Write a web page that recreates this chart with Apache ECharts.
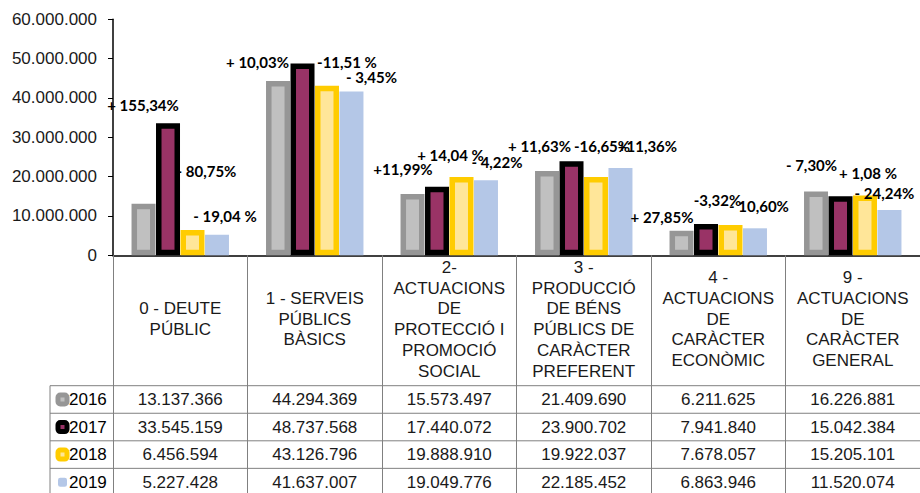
<!DOCTYPE html>
<html><head><meta charset="utf-8">
<script src="https://cdn.jsdelivr.net/npm/echarts@6/dist/echarts.min.js"></script>
<style>html,body{margin:0;padding:0;background:#fff}#c{width:920px;height:493px}</style>
</head><body><div id="c"></div>
<script>
// ---- data ----
const categories = [
  "0 - DEUTE\nPÚBLIC",
  "1 - SERVEIS\nPÚBLICS\nBÀSICS",
  "2-\nACTUACIONS\nDE\nPROTECCIÓ I\nPROMOCIÓ\nSOCIAL",
  "3 -\nPRODUCCIÓ\nDE BÉNS\nPÚBLICS DE\nCARÀCTER\nPREFERENT",
  "4 -\nACTUACIONS\nDE\nCARÀCTER\nECONÒMIC",
  "9 -\nACTUACIONS\nDE\nCARÀCTER\nGENERAL"
];
const years = ["2016", "2017", "2018", "2019"];
const values2016 = [13137366, 44294369, 15573497, 21409690, 6211625, 16226881];
const values2017 = [33545159, 48737568, 17440072, 23900702, 7941840, 15042384];
const values2018 = [6456594, 43126796, 19888910, 19922037, 7678057, 15205101];
const values2019 = [5227428, 41637007, 19049776, 22185452, 6863946, 11520074];
const change2017 = ["+ 155,34%", "+ 10,03%", "+11,99%", "+ 11,63%", "+ 27,85%", "- 7,30%"];
const change2018 = ["- 80,75%", "-11,51 %", "+ 14,04 %", "-16,65%", "-3,32%", "+ 1,08 %"];
const change2019 = ["- 19,04 %", "- 3,45%", "- 4,22%", "+11,36%", "- 10,60%", "- 24,24%"];
const yMin = 0, yMax = 60000000, yInterval = 10000000;

// ---- layout / style (label offsets relative to bar top) ----
const off2017 = [[-25,-10],[-45,6],[-34,-10],[-32,-7],[-44,1],[-29,-23]];
const off2018 = [[14,-51],[20,-16],[-11,-14],[6,-23],[-13,-17],[3,-14]];
const off2019 = [[8,-11],[20,-7],[11,-10],[27,-14],[4,-14],[-5,-9]];

const fmt = v => String(v).replace(/\B(?=(\d{3})+(?!\d))/g, ".");
const TXT = "'Liberation Sans', Arial, sans-serif";
const LBL = { fontFamily: "Lato, 'Open Sans', sans-serif", fontWeight: "bold", fontSize: 15, lineHeight: 16, color: "#000" };

const styles = [
  { color: "#c0c0c0", borderColor: "#969696", borderWidth: 5.5 },
  { color: "#993366", borderColor: "#000000", borderWidth: 5.5 },
  { color: "#ffe699", borderColor: "#ffcc00", borderWidth: 5.5 },
  { color: "#b4c7e7", borderWidth: 0 }
];
const allValues = [values2016, values2017, values2018, values2019];
const allChanges = [null, change2017, change2018, change2019];
const allOffsets = [null, off2017, off2018, off2019];

const series = years.map((y, s) => ({
  name: y,
  type: "bar",
  barWidth: 24,
  barGap: "2%",
  itemStyle: styles[s],
  data: allValues[s].map((v, i) => {
    const item = { value: v };
    if (allChanges[s]) {
      item.label = {
        show: true, position: "top", distance: 0,
        offset: allOffsets[s][i],
        formatter: allChanges[s][i],
        ...LBL
      };
    }
    return item;
  }),
  emphasis: { disabled: true }
}));

const chart = echarts.init(document.getElementById("c"), null, { renderer: "svg" });
chart.setOption({
  animation: false,
  backgroundColor: "#fff",
  grid: { left: 113, top: 19.3, width: 811, height: 236 },
  legend: {
    orient: "vertical", left: 55.5, top: 390.5, height: 160, padding: 0,
    itemWidth: 9, itemHeight: 9, itemGap: 9.55,
    icon: "roundRect",
    textStyle: { fontFamily: TXT, fontSize: 17, color: "#000", lineHeight: 18, padding: [0,0,0,-3] },
    selectedMode: false,
    data: years.map((y, s) => ({ name: y, itemStyle: { color: styles[s].color, borderColor: styles[s].borderColor || styles[s].color, borderWidth: s === 3 ? 0 : 5 } }))
  },
  xAxis: {
    type: "category",
    data: categories,
    axisLine: { lineStyle: { color: "#000", width: 1.5 } },
    axisTick: { show: true, length: 240, lineStyle: { color: "#808080", width: 1 } },
    axisLabel: { interval: 0, margin: 64, verticalAlign: "middle", fontFamily: TXT, fontSize: 17, lineHeight: 20.7, color: "#1a1a1a", align: "center" }
  },
  yAxis: {
    type: "value", min: yMin, max: yMax, interval: yInterval,
    splitLine: { show: false },
    axisLine: { show: true, lineStyle: { color: "#000", width: 1.5 } },
    axisTick: { show: true, length: 5, lineStyle: { color: "#000" } },
    axisLabel: { margin: 16, formatter: v => fmt(v), fontFamily: TXT, fontSize: 17, color: "#1a1a1a" }
  },
  series
});

// ---- data table below the axis ----
const rowTop = 385.7, rowH = 27.55, tableLeft = 50, tableRight = 924;
const g = [];
for (let r = 0; r < 4; r++) {
  const y = rowTop + r * rowH;
  g.push({ type: "line", shape: { x1: tableLeft, y1: y, x2: tableRight, y2: y }, style: { stroke: "#808080", lineWidth: 1 }, silent: true });
}
g.push({ type: "line", shape: { x1: tableLeft, y1: rowTop, x2: tableLeft, y2: 493 }, style: { stroke: "#808080", lineWidth: 1 }, silent: true });
allValues.forEach((vals, r) => {
  const cy = rowTop + (r + 0.5) * rowH;
  vals.forEach((v, i) => {
    const cx = chart.convertToPixel({ xAxisIndex: 0 }, i);
    g.push({ type: "text", x: cx, y: cy, silent: true,
      style: { text: fmt(v), align: "center", verticalAlign: "middle", fontFamily: TXT, fontSize: 17, fill: "#1a1a1a" } });
  });
});
chart.setOption({ graphic: g });
</script>
</body></html>
